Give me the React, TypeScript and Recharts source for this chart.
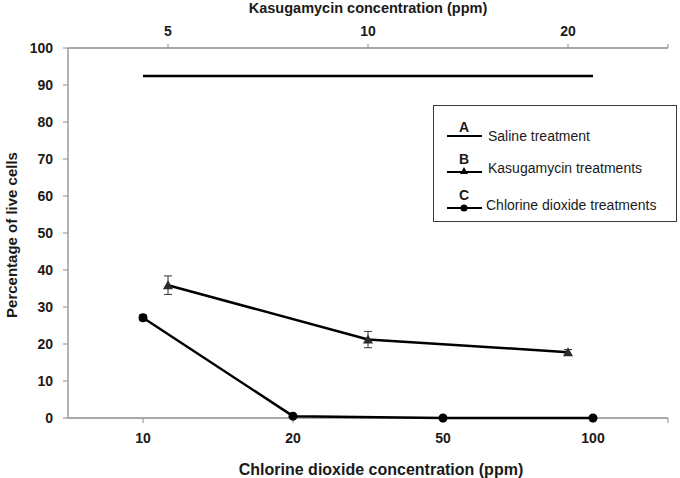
import { ComposedChart, Scatter, XAxis, YAxis, ErrorBar, Legend } from 'recharts';

const chlorineLabels = ['10', '20', '50', '100'];
const kasugamycinLabels = ['5', '10', '20'];
const yTicks = [0, 10, 20, 30, 40, 50, 60, 70, 80, 90, 100];

const salineValue = 92.4;
const kasugamycinValues = [35.9, 21.2, 17.8];
const kasugamycinErrors = [2.5, 2.2, 0.7];
const chlorineValues = [27.1, 0.5, 0, 0];
const chlorineErrors = [0.8, 0.3, 0, 0];

const seriesLetters = ['A', 'B', 'C'];
const seriesNames = ['Saline treatment', 'Kasugamycin treatments', 'Chlorine dioxide treatments'];

const chlorineData = chlorineValues.map((v, i) => ({ x: i + 0.5, y: v, err: chlorineErrors[i] }));
const kasugamycinData = kasugamycinValues.map((v, i) => ({ x: i + 0.5, y: v, err: kasugamycinErrors[i] }));
const salineData = [
  { x: 0.5, y: salineValue },
  { x: chlorineLabels.length - 0.5, y: salineValue },
];

const FONT = '"Liberation Sans", Arial, sans-serif';
const AXIS = '#8c8c8c';
const tickStyle = { fontFamily: FONT, fontSize: 14, fontWeight: 'bold', fill: '#1a1a1a' };
const titleStyle = { fontFamily: FONT, fontSize: 14, fontWeight: 'bold', fill: '#1a1a1a' };

const Triangle = (props: any) => {
  const { cx, cy } = props;
  return <path d={`M${cx},${cy - 5} L${cx + 5},${cy + 4} L${cx - 5},${cy + 4} Z`} fill="#2a2a2a" />;
};

const Dot = (props: any) => <circle cx={props.cx} cy={props.cy} r={4.5} fill="#000" />;

const NoShape = () => <g />;

const renderLegend = () => {
  const rows = [
    { letterY: 22, lineY: 31, textX: 55, textY: 31 },
    { letterY: 54, lineY: 67, textX: 55, textY: 63 },
    { letterY: 90, lineY: 103, textX: 53, textY: 100 },
  ];
  return (
    <div
      style={{
        width: 244,
        height: 117,
        border: '1.5px solid #3a3a3a',
        background: '#fff',
        boxSizing: 'border-box',
        position: 'relative',
      }}
    >
      <svg width={244} height={117} style={{ position: 'absolute', left: -1.5, top: -1.5 }}>
        {rows.map((r, i) => (
          <g key={i}>
            <text x={31} y={r.letterY} textAnchor="middle" dominantBaseline="central"
              fontFamily={FONT} fontSize={14} fontWeight="bold" fill="#1a1a1a">
              {seriesLetters[i]}
            </text>
            <line x1={14} x2={49} y1={r.lineY} y2={r.lineY} stroke="#000" strokeWidth={2} />
            {i === 1 && <path d={`M31,${r.lineY - 5} L35,${r.lineY + 2} L27,${r.lineY + 2} Z`} fill="#000" />}
            {i === 2 && <circle cx={31} cy={r.lineY} r={3.5} fill="#000" />}
            <text x={r.textX} y={r.textY} dominantBaseline="central"
              fontFamily={FONT} fontSize={14} fill="#1a1a1a">
              {seriesNames[i]}
            </text>
          </g>
        ))}
      </svg>
    </div>
  );
};

export default function App() {
  return (
    <div style={{ position: 'absolute', left: 0, top: 0 }}>
      <ComposedChart width={680} height={478} margin={{ top: 0, right: 12, bottom: 0, left: 0 }}>
        <XAxis
          xAxisId="bottom"
          type="number"
          dataKey="x"
          domain={[0, 4]}
          ticks={[0.5, 1.5, 2.5, 3.5, 4]}
          interval={0}
          tickFormatter={(v: number) => chlorineLabels[Math.floor(v)] ?? ''}
          height={60}
          tick={tickStyle}
          tickSize={5}
          tickMargin={10}
          axisLine={{ stroke: AXIS, strokeWidth: 1.3 }}
          tickLine={{ stroke: AXIS }}
          label={{ value: 'Chlorine dioxide concentration (ppm)', position: 'insideBottom', offset: 3, dx: 13, style: { ...titleStyle, fontSize: 16 } }}
        />
        <XAxis
          xAxisId="top"
          orientation="top"
          type="number"
          dataKey="x"
          domain={[0, 3]}
          ticks={[0.5, 1.5, 2.5, 3]}
          interval={0}
          tickFormatter={(v: number) => kasugamycinLabels[Math.floor(v)] ?? ''}
          height={48}
          tick={tickStyle}
          tickSize={4}
          tickMargin={8}
          axisLine={{ stroke: AXIS, strokeWidth: 1.3 }}
          tickLine={{ stroke: AXIS }}
          label={{ value: 'Kasugamycin concentration (ppm)', position: 'insideTop', offset: 3, style: { ...titleStyle, fontSize: 14.5 } }}
        />
        <YAxis
          yAxisId="left"
          type="number"
          dataKey="y"
          domain={[0, 100]}
          ticks={yTicks}
          interval={0}
          width={68}
          tick={tickStyle}
          tickSize={5}
          tickMargin={10}
          axisLine={{ stroke: AXIS, strokeWidth: 1.3 }}
          tickLine={{ stroke: AXIS }}
          label={{
            value: 'Percentage of live cells',
            angle: -90,
            position: 'insideLeft',
            offset: 12,
            dy: 2,
            style: { ...titleStyle, fontSize: 15, textAnchor: 'middle' },
          }}
        />
        <Scatter
          name={seriesNames[0]}
          xAxisId="bottom"
          yAxisId="left"
          data={salineData}
          line={{ stroke: '#000', strokeWidth: 2.5 }}
          shape={NoShape}
          isAnimationActive={false}
        />
        <Scatter
          name={seriesNames[1]}
          xAxisId="top"
          yAxisId="left"
          data={kasugamycinData}
          line={{ stroke: '#000', strokeWidth: 2.5 }}
          shape={Triangle}
          isAnimationActive={false}
        >
          <ErrorBar dataKey="err" direction="y" width={4} stroke="#333" strokeWidth={1} />
        </Scatter>
        <Scatter
          name={seriesNames[2]}
          xAxisId="bottom"
          yAxisId="left"
          data={chlorineData}
          line={{ stroke: '#000', strokeWidth: 2.5 }}
          shape={Dot}
          isAnimationActive={false}
        >
          <ErrorBar dataKey="err" direction="y" width={4} stroke="#333" strokeWidth={1} />
        </Scatter>
        <Legend
          layout="vertical"
          align="center"
          verticalAlign="middle"
          content={renderLegend}
          wrapperStyle={{ left: 433, top: 105, width: 244, height: 117 }}
        />
      </ComposedChart>
    </div>
  );
}
